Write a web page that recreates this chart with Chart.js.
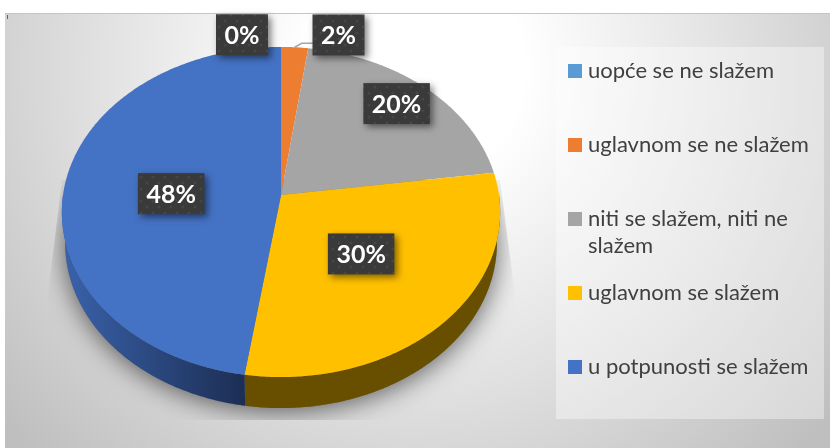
<!DOCTYPE html>
<html>
<head>
<meta charset="utf-8">
<style>html,body{margin:0;padding:0;background:#fff}#wrap{width:830px;height:448px}</style>
<script src="https://cdn.jsdelivr.net/npm/chart.js@4/dist/chart.umd.min.js"></script>
</head>
<body>
<div id="wrap"><canvas id="c" width="830" height="448"></canvas></div>
<script>
const categories = ['uopće se ne slažem','uglavnom se ne slažem','niti se slažem, niti ne slažem','uglavnom se slažem','u potpunosti se slažem'];
const values = [0, 2.2, 20.6, 29.6, 47.6];
const percentLabels = ['0%','2%','20%','30%','48%'];
const colors = ['#5B9BD5','#ED7D31','#A5A5A5','#FFC000','#4472C4'];

// view of the disc (tilted, with a little perspective)
const VIEW = {vertexY:195, A:218, B:163.3, k:0.103, depth:31, floorScale:0.985};
const LABEL_SHIFT = [[-39,-68],[49,-68],[27,-25],[-16,-14],[20,6]];
const ROW_TOPS = [64,138,212,286,360];

function project(el, ang, r){
  const u = r*Math.cos(ang), v = -r*Math.sin(ang), w = 1+VIEW.k*v;
  return [el.x + VIEW.A*u/w, VIEW.vertexY - VIEW.B*v/w];
}
function rimPoints(el,a1,a2){
  const pts=[]; const n=Math.max(2,Math.ceil(Math.abs(a2-a1)/0.01));
  for(let i=0;i<=n;i++) pts.push(project(el,a1+(a2-a1)*i/n,1));
  return pts;
}
function toFloor(el,p){return [el.x+(p[0]-el.x)*VIEW.floorScale,p[1]+VIEW.depth];}
function tracePts(ctx,pts,start){pts.forEach((p,i)=>{(i===0&&start)?ctx.moveTo(p[0],p[1]):ctx.lineTo(p[0],p[1]);});}

let dotPattern=null;
function getPattern(ctx){
  if(dotPattern) return dotPattern;
  const c=document.createElement('canvas');c.width=12;c.height=12;
  const g=c.getContext('2d');g.fillStyle='#3a3a3a';g.fillRect(0,0,12,12);
  g.fillStyle='#464646';
  [[3,3],[9,9]].forEach(p=>{g.beginPath();g.arc(p[0],p[1],1.6,0,Math.PI*2);g.fill();});
  dotPattern=ctx.createPattern(c,'repeat');return dotPattern;
}

const pie3d = {
  id:'pie3d',
  beforeDraw(chart){
    const ctx=chart.ctx;
    ctx.save();
    ctx.fillStyle='#fff';ctx.fillRect(0,0,830,448);
    const g=ctx.createRadialGradient(415,70,0,415,70,540);
    g.addColorStop(0,'#ffffff');g.addColorStop(0.2,'#ffffff');g.addColorStop(0.6,'#e0e0e0');g.addColorStop(1,'#bfbfbf');
    ctx.fillStyle=g;ctx.fillRect(5,13,825,435);
    ctx.fillStyle='#c4c4c4';ctx.fillRect(5,13,825,1);
    ctx.fillStyle='#666';ctx.fillRect(7,15,1,4);
    ctx.fillStyle='rgba(255,255,255,0.38)';ctx.fillRect(556,47,268,372);
    ctx.restore();
  },
  beforeDatasetDraw(chart,args){
    const ctx=chart.ctx, els=chart.getDatasetMeta(args.index).data;
    const el0=els[0];
    const floor=rimPoints(el0,0,Math.PI*2).map(p=>toFloor(el0,p));
    // soft shadow under the pie, cut by a tapering frame
    ctx.save();
    ctx.beginPath();ctx.moveTo(62,180);ctx.lineTo(48,295);ctx.lineTo(48,420);ctx.lineTo(515,420);ctx.lineTo(515,295);ctx.lineTo(500,180);ctx.closePath();ctx.clip();
    ctx.shadowColor='rgba(0,0,0,0.6)';ctx.shadowBlur=26;ctx.shadowOffsetY=3;
    ctx.fillStyle='#777';
    ctx.beginPath();tracePts(ctx,floor,true);ctx.closePath();ctx.fill();
    ctx.restore();
    // front wall
    els.forEach((el,i)=>{
      const a1=Math.max(el.startAngle,0), a2=Math.min(el.endAngle,Math.PI);
      if(a2<=a1) return;
      const top=rimPoints(el,a1,a2), bot=top.map(p=>toFloor(el,p)).reverse();
      ctx.beginPath();tracePts(ctx,top,true);tracePts(ctx,bot,false);ctx.closePath();
      if(i===4){
        const g=ctx.createLinearGradient(62,0,top[0][0],0);
        g.addColorStop(0,'#3a62ab');g.addColorStop(1,'#1c2e54');ctx.fillStyle=g;
      } else ctx.fillStyle=i===3?'#684f00':'#555';
      ctx.fill();
    });
    // top surface
    els.forEach((el,i)=>{
      if(el.endAngle-el.startAngle<1e-6) return;
      const c=project(el,0,0);
      ctx.beginPath();ctx.moveTo(c[0],c[1]);tracePts(ctx,rimPoints(el,el.startAngle,el.endAngle),false);ctx.closePath();
      ctx.fillStyle=colors[i];ctx.fill();
    });
    return false;
  },
  afterDatasetsDraw(chart){
    const ctx=chart.ctx, els=chart.getDatasetMeta(0).data;
    ctx.save();
    // legend
    ctx.textBaseline='middle';ctx.textAlign='left';
    ctx.font='22px Lato';
    categories.forEach((t,i)=>{
      ctx.fillStyle=colors[i];ctx.fillRect(568,ROW_TOPS[i],14,14);
      ctx.fillStyle='#404040';
      let line='',y=ROW_TOPS[i]+7;
      t.split(' ').forEach(w=>{
        const test=line?line+' '+w:w;
        if(ctx.measureText(test).width>232){ctx.fillText(line,588,y);y+=27;line=w;}
        else line=test;
      });
      ctx.fillText(line,588,y);
    });
    // leader line of the small slice
    const el=els[1], mid=(el.startAngle+el.endAngle)/2, p=project(el,mid,1);
    const anchor=project(el,mid,0.6);
    const labelX=anchor[0]+LABEL_SHIFT[1][0];
    ctx.strokeStyle='#a6a6a6';ctx.lineWidth=1.5;
    ctx.beginPath();ctx.moveTo(p[0],p[1]);ctx.lineTo(p[0]+7,p[1]-4);ctx.lineTo(labelX-24,p[1]-4);ctx.stroke();
    // data labels
    ctx.font='bold 25px Lato';ctx.textAlign='center';
    els.forEach((e,i)=>{
      const m=(e.startAngle+e.endAngle)/2, a=project(e,m,0.6);
      const x=a[0]+LABEL_SHIFT[i][0], y=a[1]+LABEL_SHIFT[i][1];
      const w=ctx.measureText(percentLabels[i]).width+17, h=41;
      ctx.save();
      ctx.shadowColor='rgba(0,0,0,0.5)';ctx.shadowBlur=7;ctx.shadowOffsetX=3;ctx.shadowOffsetY=3;
      ctx.fillStyle=getPattern(ctx);ctx.fillRect(x-w/2,y-h/2,w,h);
      ctx.restore();
      ctx.fillStyle='#fff';ctx.fillText(percentLabels[i],x,y+1);
    });
    ctx.restore();
  }
};

new Chart(document.getElementById('c'),{
  type:'pie',
  data:{labels:categories,datasets:[{data:values,backgroundColor:colors,borderWidth:0}]},
  options:{
    responsive:false,animation:false,
    layout:{padding:{left:62,right:330,top:0,bottom:0}},
    plugins:{legend:{display:false},tooltip:{enabled:false}}
  },
  plugins:[pie3d]
});
</script>
</body>
</html>
